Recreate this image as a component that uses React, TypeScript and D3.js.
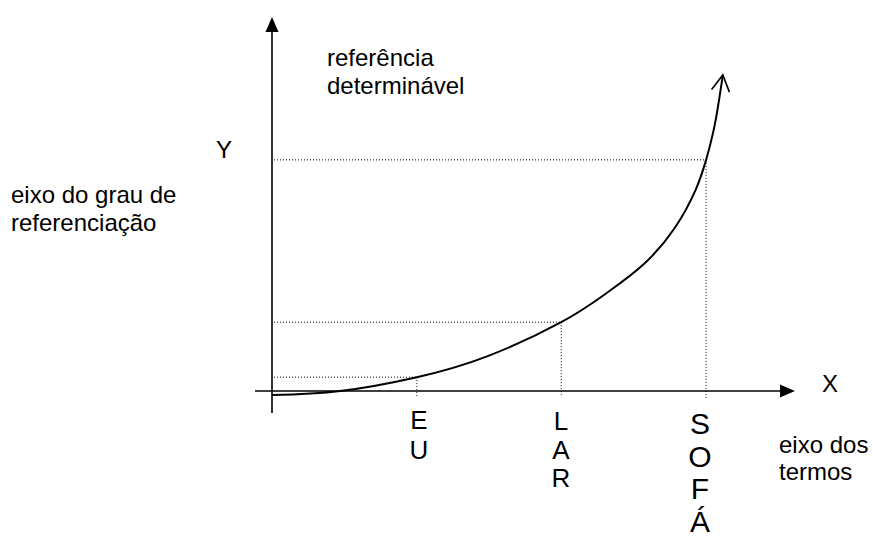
import React from "react";
import * as d3 from "d3";

// curve: "grau de referenciação" vs "termos"
const curveX = [0, 13, 27.7, 41, 55.3, 64, 71, 77, 81, 83, 84.7, 86.2];
const curveY = [-1.1, 0, 3.7, 9.2, 18.4, 26.2, 33.8, 43.6, 53.8, 61.8, 71.5, 84.5];

// terms on the X axis
const terms = ["EU", "LAR", "SOFÁ"];
const termX = [27.7, 55.3, 83.0];
const termY = [3.7, 18.4, 61.8];

const W = 873;
const H = 536;
const FONT = "'Liberation Sans', Arial, Helvetica, sans-serif";

export default function App() {
  const x = d3.scaleLinear().domain([0, 100]).range([272, 795]);
  const y = d3.scaleLinear().domain([0, 100]).range([391, 17]);

  const pts: [number, number][] = curveX.map((v, i) => [v, curveY[i]]);
  const line = d3
    .line<[number, number]>()
    .x((d) => x(d[0]))
    .y((d) => y(d[1]))
    .curve(d3.curveNatural);

  const x0 = x(0);
  const y0 = y(0);
  const xEnd = x(100);
  const yEnd = y(100);
  const headLen = 15;
  const headHalf = 6.5;

  const letterStyle = [
    { size: 26, gap: 30, first: 429, cx: 419 },
    { size: 26, gap: 28.5, first: 430, cx: 561 },
    { size: 30, gap: 32.5, first: 434, cx: 700 },
  ];
  const overhang = [5, 4, 7];

  return (
    <svg
      width={W}
      height={H}
      style={{ position: "absolute", left: 0, top: 0, background: "#fff" }}
      fontFamily={FONT}
    >
      <defs>
        <marker
          id="openArrow"
          viewBox="-20 -20 40 40"
          markerWidth={40}
          markerHeight={40}
          refX={0}
          refY={0}
          markerUnits="userSpaceOnUse"
          orient="auto"
          overflow="visible"
        >
          <path d="M-16,-9 L0,0 L-16,9" fill="none" stroke="#000" strokeWidth={1.6} />
        </marker>
      </defs>

      {/* dotted guides */}
      {terms.map((t, i) => (
        <g key={t} stroke="#000" strokeWidth={1} strokeDasharray="1 2" fill="none">
          <line x1={x0 + 2} x2={x(termX[i])} y1={y(termY[i])} y2={y(termY[i])} />
          <line x1={x(termX[i])} x2={x(termX[i])} y1={y(termY[i])} y2={y0 + overhang[i]} />
        </g>
      ))}

      {/* Y axis */}
      <line x1={x0} x2={x0} y1={413} y2={yEnd + headLen} stroke="#000" strokeWidth={1.6} />
      <polygon
        points={`${x0 - headHalf},${yEnd + headLen} ${x0 + headHalf},${yEnd + headLen} ${x0},${yEnd}`}
        fill="#000"
      />
      {/* X axis */}
      <line x1={255} x2={xEnd - headLen} y1={y0} y2={y0} stroke="#000" strokeWidth={1.6} />
      <polygon
        points={`${xEnd - headLen},${y0 - headHalf} ${xEnd - headLen},${y0 + headHalf} ${xEnd},${y0}`}
        fill="#000"
      />

      {/* curve */}
      <path d={line(pts) || ""} fill="none" stroke="#000" strokeWidth={2} markerEnd="url(#openArrow)" />

      {/* axis letters */}
      <text x={224} y={158} fontSize={24} textAnchor="middle">Y</text>
      <text x={830} y={392} fontSize={24} textAnchor="middle">X</text>

      {/* annotations */}
      <text x={327} y={66} fontSize={24}>referência</text>
      <text x={327} y={94} fontSize={24}>determinável</text>
      <text x={11} y={203} fontSize={24}>eixo do grau de</text>
      <text x={11} y={231} fontSize={24}>referenciação</text>
      <text x={779} y={453} fontSize={24}>eixo dos</text>
      <text x={779} y={480} fontSize={24}>termos</text>

      {/* stacked term letters */}
      {terms.map((t, i) =>
        Array.from(t).map((ch, j) => (
          <text
            key={t + j}
            x={letterStyle[i].cx}
            y={letterStyle[i].first + j * letterStyle[i].gap}
            fontSize={letterStyle[i].size}
            textAnchor="middle"
          >
            {ch}
          </text>
        ))
      )}
    </svg>
  );
}
